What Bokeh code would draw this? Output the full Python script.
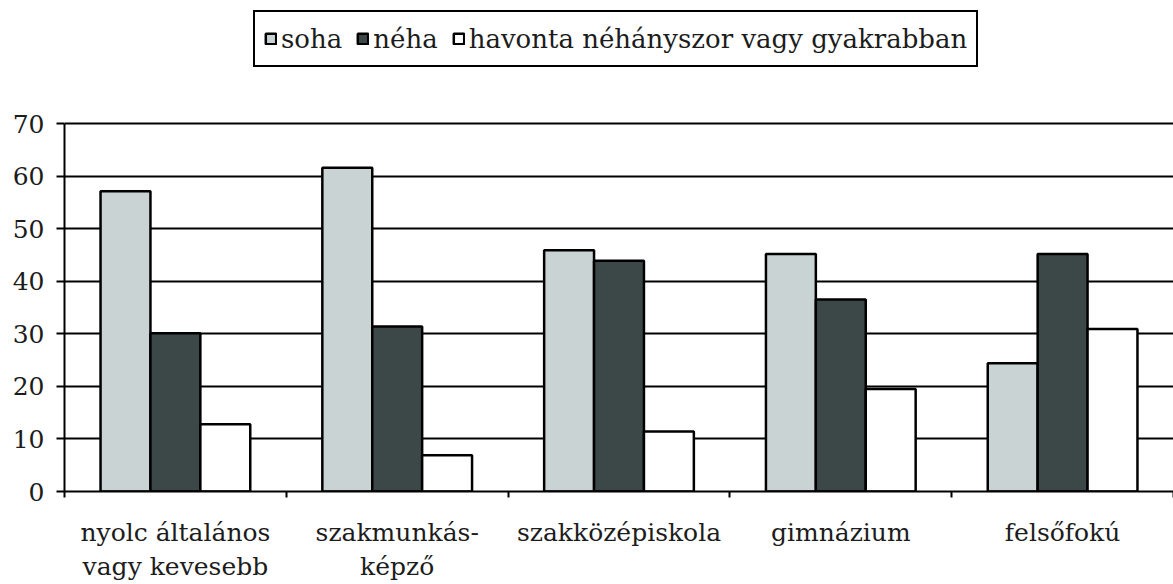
from bokeh.plotting import figure
from bokeh.models import (Range1d, FactorRange, LinearAxis, CategoricalAxis, FixedTicker,
                          Legend, LegendItem, ColumnDataSource)
from bokeh.transform import dodge
from bokeh.embed import file_html
from bokeh.resources import INLINE

categories = ["nyolc általános\nvagy kevesebb", "szakmunkás-\nképző", "szakközépiskola",
              "gimnázium", "felsőfokú"]
series_names = ["soha", "néha", "havonta néhányszor vagy gyakrabban"]
soha = [57.1, 61.6, 45.9, 45.2, 24.4]
neha = [30.1, 31.4, 43.9, 36.5, 45.2]
havonta = [12.8, 6.9, 11.4, 19.5, 30.9]
y_ticks = [0, 10, 20, 30, 40, 50, 60, 70]

FONT = "DejaVu Serif"
TEXT = "#1c1c1c"
colors = ["#c9d3d3", "#3c4848", "#ffffff"]

src = ColumnDataSource(dict(cat=categories, soha=soha, neha=neha, havonta=havonta))

# frame spans from the top of the page so the legend can sit above the 70 line
p = figure(width=1173, height=584, x_range=FactorRange(*categories, range_padding=0),
           y_range=Range1d(0, 70 * 491 / 368), output_backend="svg", toolbar_location=None,
           x_axis_location=None, y_axis_location=None,
           min_border_left=64, min_border_right=0, min_border_top=0, min_border_bottom=93)
p.outline_line_color = None
p.background_fill_color = "white"
p.border_fill_color = "white"

# y axis
yax = LinearAxis(ticker=FixedTicker(ticks=y_ticks), bounds=(0, 70))
yax.axis_line_color = "black"
yax.axis_line_width = 2
yax.major_tick_line_color = "black"
yax.major_tick_line_width = 2
yax.major_tick_in = 0
yax.major_tick_out = 8
yax.minor_tick_line_color = None
yax.major_label_standoff = 12
yax.major_label_text_font = FONT
yax.major_label_text_font_size = "25px"
yax.major_label_text_color = TEXT
p.add_layout(yax, "left")

# x axis with ticks at category boundaries (synthetic coordinates of the factor range)
xedge = LinearAxis(ticker=FixedTicker(ticks=list(range(len(categories) + 1))))
xedge.axis_line_color = "black"
xedge.axis_line_width = 2
xedge.major_tick_line_color = "black"
xedge.major_tick_line_width = 2
xedge.major_tick_in = 0
xedge.major_tick_out = 6
xedge.minor_tick_line_color = None
xedge.major_label_text_font_size = "1px"
xedge.major_label_text_color = None
xedge.major_label_standoff = 0
p.add_layout(xedge, "below")

# category labels axis
xcat = CategoricalAxis()
xcat.axis_line_color = None
xcat.major_tick_line_color = None
xcat.minor_tick_line_color = None
xcat.major_label_standoff = 14
xcat.major_label_text_font = FONT
xcat.major_label_text_font_size = "25px"
xcat.major_label_text_color = TEXT
xcat.major_label_text_line_height = 1.2
p.add_layout(xcat, "below")

p.ygrid.ticker = FixedTicker(ticks=y_ticks)
p.ygrid.grid_line_color = "black"
p.ygrid.grid_line_width = 2
p.xgrid.grid_line_color = None

w = 0.225
r1 = p.vbar(x=dodge("cat", -w, range=p.x_range), top="soha", width=w, source=src,
            fill_color=colors[0], line_color="black", line_width=2.5)
r2 = p.vbar(x=dodge("cat", 0, range=p.x_range), top="neha", width=w, source=src,
            fill_color=colors[1], line_color="black", line_width=2.5)
r3 = p.vbar(x=dodge("cat", w, range=p.x_range), top="havonta", width=w, source=src,
            fill_color=colors[2], line_color="black", line_width=2.5)

legend = Legend(items=[LegendItem(label=series_names[0], renderers=[r1]),
                       LegendItem(label=series_names[1], renderers=[r2]),
                       LegendItem(label=series_names[2], renderers=[r3])],
                location=(189, 424), orientation="horizontal")
legend.border_line_color = "black"
legend.border_line_width = 2
legend.border_line_alpha = 1.0
legend.background_fill_alpha = 1
legend.label_text_font = FONT
legend.label_text_font_size = "26px"
legend.label_text_color = TEXT
legend.glyph_width = 13
legend.glyph_height = 13
legend.label_standoff = 4
legend.label_height = 35
legend.spacing = 14
legend.padding = 9
legend.margin = 0
p.add_layout(legend, "center")

open("out.html", "w").write(file_html(p, INLINE))
